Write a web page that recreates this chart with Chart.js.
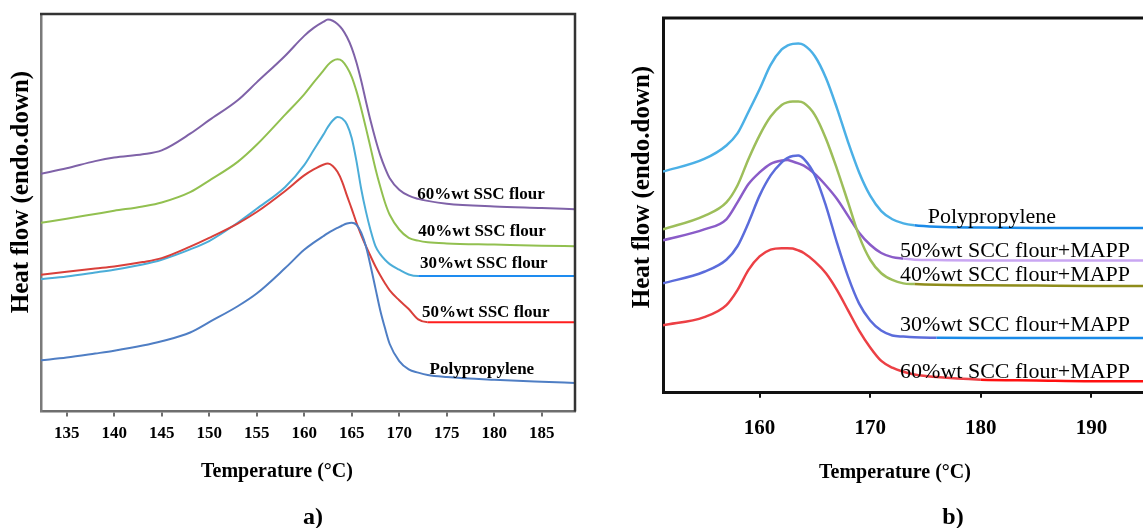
<!DOCTYPE html>
<html>
<head>
<meta charset="utf-8">
<title>DSC curves</title>
<script src="https://cdn.jsdelivr.net/npm/chart.js@4"></script>
<style>
  html, body { margin: 0; padding: 0; background: #fff; }
  body { width: 1143px; height: 528px; position: relative; overflow: hidden; }
  #wrapA { position: absolute; left: 0; top: 0; width: 600px; height: 528px; }
  #wrapB { position: absolute; left: 600px; top: 0; width: 543px; height: 528px; }
</style>
</head>
<body>
<div id="wrapA"><canvas id="chartA" width="600" height="528"></canvas></div>
<div id="wrapB"><canvas id="chartB" width="543" height="528"></canvas></div>
<script>
// --- data: panel a) SSC flour ---
const tempsA = [132.3,135,138,140,143,145,148,150,153,155,158,160,161,162,162.5,163,163.5,164,164.5,165,165.5,166,166.5,167,167.5,168,168.5,169,170,171,172,173,175,180,185,188.5];
const ppA    = [12.9,13.6,14.6,15.3,16.6,17.7,19.9,22.5,26.5,29.7,36.1,40.7,42.5,44.1,44.9,45.6,46.2,46.8,47.3,47.5,47.0,45.0,41.5,36.5,31.0,25.5,21.0,17.0,12.7,10.6,9.8,9.2,8.7,8.0,7.5,7.2];
const wt30A  = [33.3,34.0,35.0,35.7,37.0,38.2,40.8,42.9,47.5,51.0,56.5,62.0,65.8,69.6,71.6,73.2,74.1,73.7,72.2,68.8,63.0,56.0,50.3,45.5,41.6,39.6,38.2,37.1,35.7,34.5,34.1,34.1,34.1,34.1,34.1,34.1];
const wt40A  = [47.5,48.5,49.7,50.5,51.6,52.6,55.2,58.1,62.8,67.1,74.7,79.8,82.8,85.7,87.2,88.2,88.6,88.2,86.6,84.2,80.6,76.2,71.3,66.2,61.1,56.6,52.6,49.5,45.8,43.7,43.0,42.6,42.3,42.0,41.7,41.6];
const wt50A  = [34.4,35.2,36.0,36.5,37.6,38.6,41.5,43.7,47.3,50.2,55.5,59.4,60.9,62.1,62.4,61.8,60.3,57.8,54.3,51.0,47.5,44.4,41.6,39.0,36.5,34.3,32.3,30.5,28.0,25.8,23.2,22.5,22.5,22.5,22.5,22.5];
const wt60A  = [59.8,61.2,63.0,63.9,64.7,65.7,69.9,73.3,78.3,82.8,89.5,94.5,96.5,98.0,98.6,98.3,97.5,96.2,94.2,91.5,87.8,83.2,78.0,73.0,68.5,64.5,61.3,58.7,55.8,54.3,53.5,53.0,52.3,51.6,51.2,50.9];
const ticksA = [135,140,145,150,155,160,165,170,175,180,185];
const namesA = ['Polypropylene','30%wt SSC flour','40%wt SSC flour','50%wt SSC flour','60%wt SSC flour'];

// --- data: panel b) SCC flour + MAPP ---
const tempsB = [151.27,155,157,158,159,160,161,162,162.5,163,163.5,164,165,166,167,168,169,170,171,172,173,174,176,180,185,190,194.66];
const ppB    = [59.0,62.4,66.0,69.2,75.0,81.0,87.5,91.6,92.6,93.1,93.2,92.8,89.8,84.0,75.9,66.9,58.8,52.6,48.5,46.3,45.2,44.7,44.3,44.1,44.0,44.0,44.0];
const wt30B  = [29.2,32.3,35.5,39.1,45.4,52.6,58.0,61.5,62.6,63.2,63.3,62.4,58.0,49.9,40.0,31.0,23.8,19.3,16.6,15.3,15.0,14.8,14.7,14.6,14.6,14.6,14.6];
const wt40B  = [43.6,47.2,50.8,55.3,62.4,68.7,73.7,76.8,77.5,77.7,77.7,77.3,74.1,67.8,59.7,50.8,41.8,35.5,31.9,30.1,29.2,29.0,28.8,28.7,28.6,28.5,28.5];
const wt50B  = [40.7,43.6,46.3,50.8,55.7,58.8,61.1,62.0,62.1,61.7,61.2,60.6,58.4,55.3,51.7,47.2,42.7,39.5,37.3,36.2,35.8,35.5,35.4,35.3,35.3,35.3,35.3];
const wt60B  = [18.0,20.2,23.4,27.4,32.8,36.4,38.2,38.6,38.6,38.5,38.0,37.3,35.0,31.9,27.4,22.0,16.6,12.1,8.5,6.7,5.6,4.9,4.2,3.5,3.3,3.1,3.1];
const ticksB = [160,170,180,190];
const namesB = ['Polypropylene','30%wt SCC flour+MAPP','40%wt SCC flour+MAPP','50%wt SCC flour+MAPP','60%wt SCC flour+MAPP'];

// --- helpers ---
const pts = (xs, ys) => xs.map((x, i) => ({x, y: ys[i]}));
const serif = 'Liberation Serif, Times New Roman, serif';

function line(label, xs, ys, color, width, tail){
  return {
    label, data: pts(xs, ys),
    borderColor: color, borderWidth: width,
    pointRadius: 0, fill: false,
    cubicInterpolationMode: 'monotone',
    segment: tail ? { borderColor: c => c.p0.parsed.x >= tail.from ? tail.color : undefined } : undefined
  };
}

// frame, curve labels and captions
const decor = {
  id: 'decor',
  afterDatasetsDraw(chart, args, o){
    const {ctx, chartArea: a, scales: {x, y}} = chart;
    ctx.save();
    ctx.strokeStyle = o.frameColor; ctx.lineWidth = o.frameWidth;
    ctx.beginPath();
    ctx.moveTo(a.left - 1, a.top); ctx.lineTo(a.right, a.top);
    if (o.rightBorder) ctx.lineTo(a.right, a.bottom);
    ctx.stroke();
    ctx.fillStyle = '#000'; ctx.font = o.labelFont;
    ctx.textAlign = 'left'; ctx.textBaseline = 'middle';
    o.labels.forEach(l => ctx.fillText(l.text, x.getPixelForValue(l.x), y.getPixelForValue(l.y)));
    ctx.textAlign = 'center';
    o.captions.forEach(c => {
      ctx.save();
      ctx.font = c.font;
      ctx.translate(c.x, c.y);
      if (c.rot) ctx.rotate(c.rot);
      ctx.fillText(c.text, 0, 0);
      ctx.restore();
    });
    ctx.restore();
  }
};

function makeChart(id, datasets, o){
  return new Chart(document.getElementById(id), {
    type: 'line',
    data: { datasets },
    plugins: [decor],
    options: {
      responsive: false, animation: false,
      layout: { padding: o.padding },
      plugins: { legend: {display: false}, tooltip: {enabled: false}, decor: o.decor },
      scales: {
        x: {
          type: 'linear', min: o.xmin, max: o.xmax,
          afterBuildTicks: s => { s.ticks = o.ticks.map(v => ({value: v})); },
          grid: { display: true, drawOnChartArea: false, tickLength: 5, color: o.axisColor, lineWidth: 2 },
          border: { display: true, color: o.axisColor, width: o.axisWidth },
          ticks: { color: '#000', font: o.tickFont, padding: o.tickPad, maxRotation: 0, autoSkip: false }
        },
        y: {
          type: 'linear', min: 0, max: 100,
          grid: { display: false, drawTicks: false },
          border: { display: true, color: o.leftColor, width: o.axisWidth },
          ticks: { display: false }
        }
      }
    }
  });
}

makeChart('chartA', [
  line(namesA[0], tempsA, ppA,   '#4F7EC4', 2),
  line(namesA[3], tempsA, wt50A, '#D9403B', 2, {from: 172.5, color: '#FF1E1E'}),
  line(namesA[1], tempsA, wt30A, '#4BADD8', 2, {from: 171.5, color: '#1E8CF0'}),
  line(namesA[2], tempsA, wt40A, '#92C050', 2),
  line(namesA[4], tempsA, wt60A, '#7F62A8', 2)
], {
  padding: {left: 41, top: 14, right: 25, bottom: 77},
  xmin: 132.3, xmax: 188.5, ticks: ticksA,
  axisColor: '#6E6E6E', leftColor: '#7A7A7A', axisWidth: 2.5,
  tickFont: {family: serif, weight: 'bold', size: 17}, tickPad: 7,
  decor: {
    frameColor: '#333', frameWidth: 2.5, rightBorder: true,
    labelFont: 'bold 17px ' + serif,
    labels: [
      {text: namesA[4], x: 171.9, y: 54.6},
      {text: namesA[2], x: 172.0, y: 45.3},
      {text: namesA[1], x: 172.2, y: 37.2},
      {text: namesA[3], x: 172.4, y: 24.8},
      {text: namesA[0], x: 173.2, y: 10.6}
    ],
    captions: [
      {text: 'Heat flow (endo.down)', x: 22, y: 192, rot: -Math.PI / 2, font: 'bold 25px ' + serif},
      {text: 'Temperature (°C)', x: 277, y: 472, font: 'bold 20px ' + serif},
      {text: 'a)', x: 313, y: 518, font: 'bold 24px ' + serif}
    ]
  }
});

makeChart('chartB', [
  line(namesB[4], tempsB, wt60B, '#EC4045', 2.5, {from: 179, color: '#FF1010'}),
  line(namesB[1], tempsB, wt30B, '#5B6CDB', 2.5, {from: 175, color: '#1A8AE8'}),
  line(namesB[2], tempsB, wt40B, '#9DBE5A', 2.5, {from: 174, color: '#8E8C1A'}),
  line(namesB[3], tempsB, wt50B, '#8A5CC8', 2.5, {from: 173, color: '#C9A6F2'}),
  line(namesB[0], tempsB, ppB,   '#4BB0E6', 2.5, {from: 174, color: '#1A8AE8'})
], {
  padding: {left: 63, top: 18, right: 0, bottom: 69},
  xmin: 151.27, xmax: 194.66, ticks: ticksB,
  axisColor: '#111', leftColor: '#111', axisWidth: 3,
  tickFont: {family: serif, weight: 'bold', size: 21}, tickPad: 18,
  decor: {
    frameColor: '#111', frameWidth: 3, rightBorder: false,
    labelFont: '22px ' + serif,
    labels: [
      {text: namesB[0], x: 175.2, y: 46.8},
      {text: namesB[3], x: 172.7, y: 37.8},
      {text: namesB[2], x: 172.7, y: 31.5},
      {text: namesB[1], x: 172.7, y: 17.9},
      {text: namesB[4], x: 172.7, y: 5.5}
    ],
    captions: [
      {text: 'Heat flow (endo.down)', x: 43, y: 187, rot: -Math.PI / 2, font: 'bold 25px ' + serif},
      {text: 'Temperature (°C)', x: 295, y: 473, font: 'bold 20px ' + serif},
      {text: 'b)', x: 353, y: 518, font: 'bold 24px ' + serif}
    ]
  }
});
</script>
</body>
</html>
